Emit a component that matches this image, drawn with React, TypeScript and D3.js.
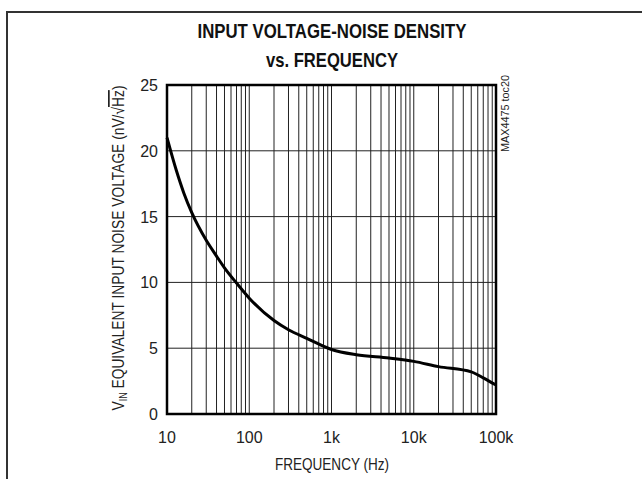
import * as d3 from "d3";

const freqHz = [10, 13, 16, 20, 30, 40, 50, 70, 100, 200, 300, 500, 1000, 2000, 5000, 10000, 20000, 50000, 70000, 100000];
const noiseNv = [21, 18.5, 16.8, 15.3, 13.2, 12.0, 11.1, 9.95, 8.8, 7.1, 6.4, 5.75, 4.9, 4.5, 4.25, 4.0, 3.6, 3.2, 2.75, 2.2];

const xTickValues = [10, 100, 1000, 10000, 100000];
const xTickLabels = ["10", "100", "1k", "10k", "100k"];
const yTickValues = [0, 5, 10, 15, 20, 25];

const W = 642;
const H = 479;
const FONT = "'Liberation Sans', Arial, sans-serif";

export default function App() {
  const x = d3.scaleLog().domain([10, 100000]).range([167, 496]);
  const y = d3.scaleLinear().domain([0, 25]).range([414, 85]);

  // minor grid: 2..9 within each decade
  const minor: number[] = [];
  for (let dec = 10; dec < 100000; dec *= 10) {
    for (let m = 2; m <= 9; m++) minor.push(dec * m);
  }

  const pts = freqHz.map((f, i) => [f, noiseNv[i]] as [number, number]);
  const line = d3
    .line<[number, number]>()
    .x((d) => x(d[0]))
    .y((d) => y(d[1]))
    .curve(d3.curveMonotoneX);

  const [x0, x1] = x.range();
  const [y0, y1] = y.range();

  return (
    <svg
      width={W}
      height={H}
      style={{ position: "absolute", left: 0, top: 0, background: "#fff" }}
      fontFamily={FONT}
    >
      {/* outer frame, runs off the right and bottom */}
      <rect x={7} y={12} width={700} height={600} fill="none" stroke="#333" strokeWidth={2} />

      {/* title */}
      <text x={332} y={38} textAnchor="middle" fontSize={21} fontWeight="bold" fill="#111"
        textLength={269} lengthAdjust="spacingAndGlyphs">
        INPUT VOLTAGE-NOISE DENSITY
      </text>
      <text x={332} y={67} textAnchor="middle" fontSize={21} fontWeight="bold" fill="#111"
        textLength={132} lengthAdjust="spacingAndGlyphs">
        vs. FREQUENCY
      </text>

      {/* grid */}
      <g stroke="#222" strokeWidth={1}>
        {minor.map((f) => (
          <line key={"m" + f} x1={x(f)} x2={x(f)} y1={y1} y2={y0} />
        ))}
        {xTickValues.map((f) => (
          <line key={"d" + f} x1={x(f)} x2={x(f)} y1={y1} y2={y0} />
        ))}
        {yTickValues.map((v) => (
          <line key={"h" + v} x1={x0} x2={x1} y1={y(v)} y2={y(v)} />
        ))}
      </g>

      {/* curve */}
      <path d={line(pts) ?? ""} fill="none" stroke="#000" strokeWidth={3} strokeLinejoin="round" />

      {/* plot border */}
      <rect x={x0} y={y1} width={x1 - x0} height={y0 - y1} fill="none" stroke="#000" strokeWidth={2.5} />

      {/* y tick labels */}
      {yTickValues.map((v) => (
        <text key={"yl" + v} x={158} y={y(v) + 6} textAnchor="end" fontSize={16} fill="#222">
          {v}
        </text>
      ))}

      {/* x tick labels */}
      {xTickValues.map((f, i) => (
        <text key={"xl" + f} x={x(f)} y={443} textAnchor="middle" fontSize={16} fill="#222">
          {xTickLabels[i]}
        </text>
      ))}

      {/* axis titles */}
      <text x={332} y={470} textAnchor="middle" fontSize={17} fill="#222"
        textLength={114} lengthAdjust="spacingAndGlyphs">
        FREQUENCY (Hz)
      </text>
      <text
        transform={`translate(124, 248) rotate(-90)`}
        textAnchor="middle"
        fontSize={17}
        fill="#222"
        textLength={325}
        lengthAdjust="spacingAndGlyphs"
      >
        V<tspan fontSize={11} dy={3}>IN</tspan>
        <tspan dy={-3}> EQUIVALENT INPUT NOISE VOLTAGE (nV/√</tspan>
        <tspan style={{ textDecoration: "overline" }}>Hz</tspan>
        <tspan>)</tspan>
      </text>

      {/* figure code */}
      <text transform={`translate(509, 75) rotate(-90)`} textAnchor="end" fontSize={11} fill="#222"
        textLength={77} lengthAdjust="spacingAndGlyphs">
        MAX4475 toc20
      </text>
    </svg>
  );
}
